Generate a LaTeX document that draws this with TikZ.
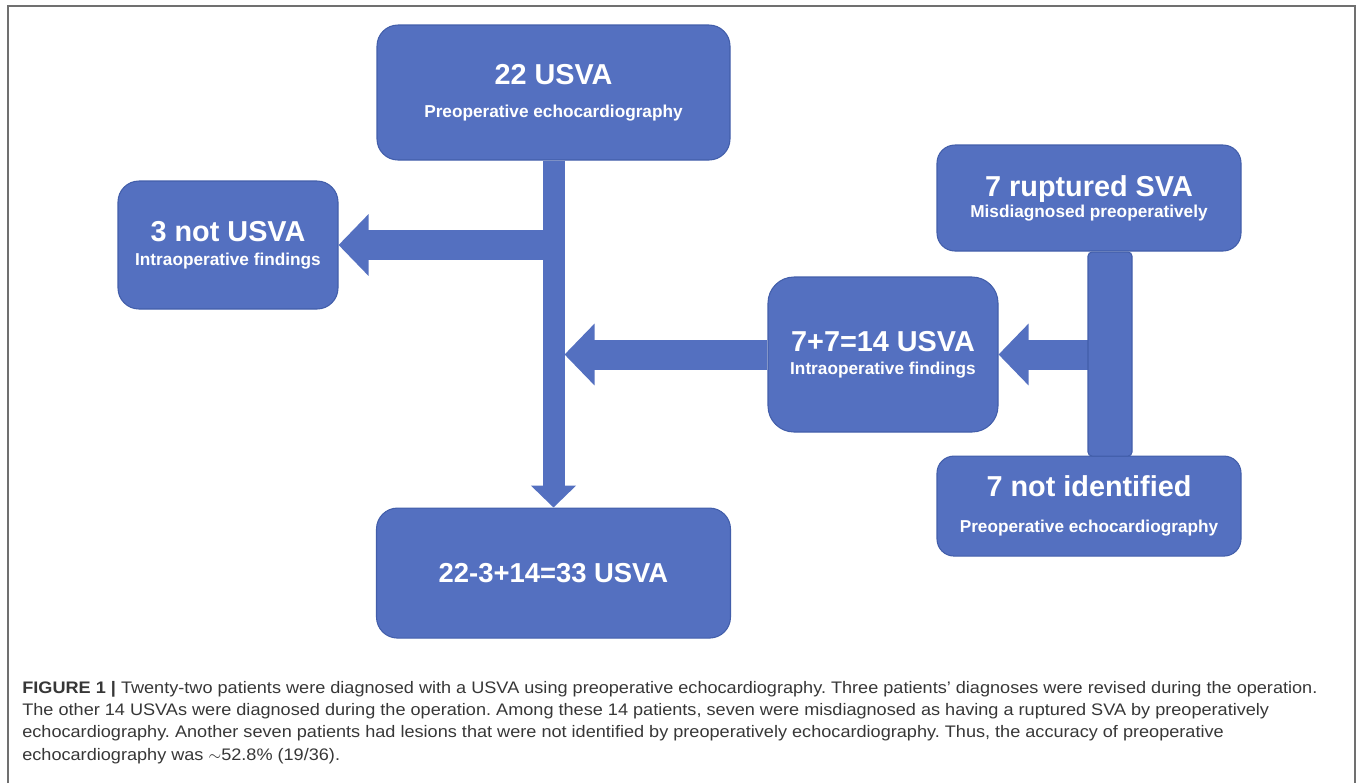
\documentclass[tikz,border=0pt]{standalone}
\usepackage{fontspec}
\setmainfont{Liberation Sans}
\newfontfamily\capfont[FakeStretch=1.085]{Liberation Sans}
\usetikzlibrary{arrows.meta, positioning, backgrounds}
\definecolor{boxblue}{RGB}{84,112,192}
\definecolor{boxedge}{RGB}{66,94,170}
\definecolor{framegray}{RGB}{112,112,112}
\definecolor{captext}{RGB}{55,55,55}
\newcommand{\headfont}{\fontsize{16.4}{19}\selectfont\bfseries}
\newcommand{\finalfont}{\fontsize{15.6}{19}\selectfont\bfseries}
\frenchspacing

\begin{document}
\begin{tikzpicture}[
      box/.style={rectangle, draw=boxedge, line width=0.6pt, fill=boxblue, rounded corners=0.42cm, text=white, align=center, inner sep=0pt, font=\fontsize{9.8}{12}\selectfont\bfseries},
      joint/.style={rectangle, draw=boxedge, line width=0.6pt, fill=boxblue, rounded corners=0.08cm, inner sep=0pt},
      trunk/.style={line width=0.44cm, draw=boxblue, -{Triangle[length=0.44cm, width=0.88cm]}},
      branch/.style={line width=0.6cm, draw=boxblue, -{Triangle[length=0.6cm, width=1.2cm]}},
      frame/.style={draw=framegray, line width=1pt}
    ]
    \useasboundingbox (0,0) rectangle (27.16,-15.66);

    % Nodes
    \node (usva) [box, minimum width=7.06cm, minimum height=2.70cm] at (11.07,-1.85) {{\headfont 22 USVA}\\[6.7pt] Preoperative echocardiography};
    \node (notusva) [box, minimum width=4.40cm, minimum height=2.56cm] at (4.56,-4.90) {{\headfont 3 not USVA}\\[1.6pt] Intraoperative findings};
    \node (ruptured) [box, minimum width=6.08cm, minimum height=2.12cm, rounded corners=0.36cm] at (21.78,-3.96) {{\headfont 7 ruptured SVA}\\ Misdiagnosed preoperatively};
    \node (fourteen) [box, minimum width=4.60cm, minimum height=3.10cm, rounded corners=0.52cm] at (17.66,-7.09) {{\headfont 7+7=14 USVA}\\[1pt] Intraoperative findings};
    \node (notident) [box, minimum width=6.08cm, minimum height=2.00cm, rounded corners=0.34cm, below=4.08cm of ruptured] {{\headfont 7 not identified}\\[8.4pt] Preoperative echocardiography};
    \node (final) [box, minimum width=7.08cm, minimum height=2.60cm, below=6.94cm of usva] {\finalfont 22-3+14=33 USVA};
    \node (joint) [joint, minimum width=0.88cm, minimum height=4.08cm, below=0pt of ruptured.south, xshift=0.42cm] {};

    % Arrows
    \begin{scope}[on background layer]
      \draw [trunk] (usva.south) -- (final.north);
      \draw [branch] (usva.south |- notusva.east) -- (notusva.east);
      \draw [branch, shorten >=0.22cm] (fourteen.west) -- (fourteen.west -| usva.south);
      \draw [branch] ([xshift=0.05cm]joint.west |- fourteen.east) -- (fourteen.east);
    \end{scope}

    % Frame and caption
    \draw [frame] (0.16,-15.66) |- (27.10,-0.12) -- (27.10,-15.66);
    \node (caption) [anchor=north west, inner sep=0pt, align=left, text=captext, font=\capfont\fontsize{9.5}{12.66}\selectfont] at (0.44,-13.62) {{\bfseries FIGURE 1 |} Twenty-two patients were diagnosed with a USVA using preoperative echocardiography. Three patients’ diagnoses were revised during the operation.\\
      The other 14 USVAs were diagnosed during the operation. Among these 14 patients, seven were misdiagnosed as having a ruptured SVA by preoperatively\\
      echocardiography. Another seven patients had lesions that were not identified by preoperatively echocardiography. Thus, the accuracy of preoperative\\
      echocardiography was $\sim$52.8\% (19/36).};

  \end{tikzpicture}
\end{document}
